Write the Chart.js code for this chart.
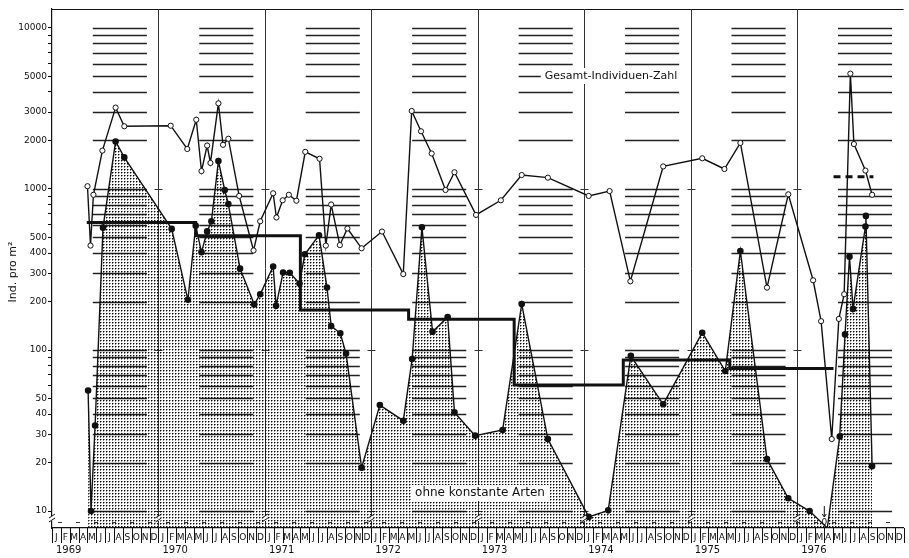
<!DOCTYPE html>
<html>
<head>
<meta charset="utf-8">
<script src="https://cdn.jsdelivr.net/npm/chart.js@4"></script>
<style>
  html, body { margin: 0; padding: 0; background: #fff; }
  #wrap { width: 909px; height: 558px; position: relative; }
</style>
</head>
<body>
<div id="wrap"><canvas id="c"></canvas></div>
<script>
// Time axis: months counted from January 1969 (0 = start of Jan 1969)
const monthLetters = ['J','F','M','A','M','J','J','A','S','O','N','D'];
const yearLabels = ['1969','1970','1971','1972','1973','1974','1975','1976'];

// Gesamt-Individuen-Zahl (open circles), individuals per m²
const totalMonths = [4.0, 4.34, 4.67, 5.68, 7.17, 8.15, 13.38, 15.25, 16.26, 16.85, 17.49, 17.86,
  18.76, 19.28, 19.88, 21.1, 22.72, 23.47, 24.93, 25.3, 26.0, 26.7, 27.55, 28.55, 30.16, 30.87,
  31.47, 32.45, 33.3, 34.9, 37.2, 39.6, 40.55, 41.6, 42.8, 44.36, 45.37, 47.8, 50.6, 52.95, 55.9,
  60.5, 62.86, 65.2, 68.9, 73.3, 75.8, 77.6, 80.6, 83.0, 85.8, 86.7, 87.9, 88.7, 89.3, 90.0, 90.4,
  91.7, 92.45];
const totalValues = [1040, 445, 920, 1730, 3200, 2450, 2470, 1770, 2690, 1290, 1860, 1450,
  3400, 1880, 2050, 905, 415, 630, 940, 665, 850, 920, 845, 1700, 1540, 445,
  800, 448, 568, 428, 544, 296, 3050, 2280, 1660, 985, 1270, 690, 850, 1220, 1175,
  905, 970, 267, 1380, 1550, 1330, 1930, 244, 926, 271, 151, 28, 156, 222, 5200, 1900,
  1300, 920];

// ohne konstante Arten (filled circles, stippled area); 0 = none found
const ohneMonths = [4.07, 4.4, 4.86, 5.75, 7.17, 8.15, 13.49, 15.32, 16.2, 16.85, 17.49, 17.97,
  18.76, 19.47, 19.88, 21.2, 22.8, 23.47, 24.93, 25.26, 26.05, 26.8, 27.9, 28.5, 30.1, 31.0,
  31.47, 32.5, 33.15, 34.9, 36.96, 39.6, 40.6, 41.7, 42.9, 44.6, 45.37, 47.7, 50.8, 52.95, 55.9,
  60.5, 62.7, 65.25, 68.9, 73.3, 75.9, 77.6, 80.6, 83.0, 85.4, 87.4, 88.8, 89.4, 89.9, 90.3,
  91.7, 91.75, 92.45];
const ohneValues = [56, 10, 34, 575, 1970, 1570, 565, 205, 590, 405, 545, 630,
  1490, 985, 805, 320, 192, 222, 330, 188, 303, 302, 259, 393, 515, 244,
  141, 127, 95, 18.6, 45.5, 36.4, 88, 578, 130, 160, 41, 29.4, 31.9, 193, 28,
  9.2, 10.1, 92, 46, 128, 74, 412, 21, 12, 10, 0, 29, 125, 380, 180,
  585, 680, 19];

// Period means (thick step line); each value holds from its month to the next
const meanMonths = [3.92, 16.2, 28.0, 40.2, 52.1, 64.4, 76.4, 88.1];
const meanValues = [618, 513, 177, 155, 60.7, 86.7, 76.9, 76.9];
// Mean for 1976 (dashed)
const mean1976Months = [88.1, 92.6];
const mean1976Values = [1190, 1190];

// Logarithmic axis: every grid value, and the ones that carry a label
const gridValues = [];
[10, 100, 1000].forEach(d => { for (let k = 1; k < 10; k++) gridValues.push(k * d); });
gridValues.push(10000);
const yTickLabels = [10, 20, 30, 40, 50, 100, 200, 300, 400, 500, 1000, 2000, 3000, 5000, 10000];

const Y_MIN = 7.85, Y_MAX = 13100;
const FONT = '"DejaVu Sans", "Liberation Sans", sans-serif';

const pts = (xs, ys) => xs.map((m, i) => ({ x: m, y: ys[i] === 0 ? Y_MIN : ys[i] }));

const canvas = document.getElementById('c');
const ctx0 = canvas.getContext('2d');

// stipple pattern for the area under the "ohne konstante Arten" curve
function stipple(ctx) {
  const t = document.createElement('canvas');
  t.width = 3; t.height = 3;
  const g = t.getContext('2d');
  g.fillStyle = '#000';
  g.fillRect(1, 1, 1, 1);
  g.fillStyle = 'rgba(0,0,0,0.45)';
  g.fillRect(2, 1, 1, 1);
  g.fillRect(1, 2, 1, 1);
  return ctx.createPattern(t, 'repeat');
}

function labelBox(ctx, text, cx, cy, font) {
  ctx.font = font;
  const w = ctx.measureText(text).width;
  ctx.fillStyle = '#fff';
  ctx.fillRect(cx - w / 2 - 4, cy - 8, w + 8, 16);
  ctx.fillStyle = '#111';
  ctx.textAlign = 'center';
  ctx.textBaseline = 'middle';
  ctx.fillText(text, cx, cy);
}

const decor = {
  id: 'decor',
  beforeDatasetsDraw(chart) {
    const { ctx, chartArea: a, scales: { x, y } } = chart;
    ctx.save();
    // frame top
    ctx.strokeStyle = '#111';
    ctx.lineWidth = 1.2;
    ctx.beginPath();
    ctx.moveTo(a.left, a.top + 0.5); ctx.lineTo(a.right, a.top + 0.5);
    ctx.stroke();
    // year separators with small cross marks at each decade
    ctx.strokeStyle = '#333';
    ctx.lineWidth = 1;
    for (let k = 1; k < yearLabels.length; k++) {
      const px = Math.round(x.getPixelForValue(k * 12)) + 0.5;
      ctx.beginPath(); ctx.moveTo(px, a.top); ctx.lineTo(px, a.bottom); ctx.stroke();
      [10, 100, 1000].forEach(v => {
        const py = Math.round(y.getPixelForValue(v)) + 0.5;
        ctx.beginPath(); ctx.moveTo(px - 4, py); ctx.lineTo(px + 4, py); ctx.stroke();
      });
    }
    // horizontal log grid, drawn from May to November of each year
    ctx.strokeStyle = '#222';
    ctx.lineWidth = 1.4;
    for (let k = 0; k < yearLabels.length; k++) {
      const x0 = x.getPixelForValue(k * 12 + 4.6);
      const x1 = x.getPixelForValue(k * 12 + 10.7);
      gridValues.forEach(v => {
        const py = Math.round(y.getPixelForValue(v)) + 0.5;
        ctx.beginPath(); ctx.moveTo(x0, py); ctx.lineTo(x1, py); ctx.stroke();
      });
    }
    // dashed base line above the axis break
    ctx.lineWidth = 1;
    ctx.strokeStyle = '#333';
    ctx.setLineDash([4, 14]);
    ctx.beginPath();
    ctx.moveTo(a.left + 6, a.bottom - 5.5); ctx.lineTo(a.right, a.bottom - 5.5);
    ctx.stroke();
    ctx.setLineDash([]);
    ctx.restore();
  },
  afterDatasetsDraw(chart) {
    const { ctx, chartArea: a, scales: { x } } = chart;
    ctx.save();
    labelBox(ctx, 'Gesamt-Individuen-Zahl', 611, 76, '11px ' + FONT);
    labelBox(ctx, 'ohne konstante Arten', 480, 493, '12px ' + FONT);
    // axis-break marks at the foot of the axis and of each year line
    ctx.strokeStyle = '#111';
    ctx.lineWidth = 1;
    for (let k = 0; k < yearLabels.length; k++) {
      const px = x.getPixelForValue(k * 12);
      const py = a.bottom - 10;
      ctx.fillStyle = '#fff';
      ctx.fillRect(px - 1, py - 2, 3, 5);
      [-2, 2].forEach(d => {
        ctx.beginPath(); ctx.moveTo(px - 3, py + d + 2); ctx.lineTo(px + 3, py + d - 2); ctx.stroke();
      });
    }
    // zero value marker for "ohne konstante Arten"
    ohneValues.forEach((v, i) => {
      if (v !== 0) return;
      const px = x.getPixelForValue(ohneMonths[i]) - 3;
      ctx.beginPath(); ctx.moveTo(px, a.bottom - 22); ctx.lineTo(px, a.bottom - 11); ctx.stroke();
      ctx.beginPath(); ctx.moveTo(px - 2, a.bottom - 14); ctx.lineTo(px, a.bottom - 11); ctx.lineTo(px + 2, a.bottom - 14); ctx.stroke();
      ctx.fillStyle = '#111';
      ctx.font = '9px ' + FONT;
      ctx.textAlign = 'center';
      ctx.textBaseline = 'middle';
      ctx.fillText('0', px, a.bottom - 5);
    });
    ctx.restore();
  },
  afterDraw(chart) {
    const { ctx, chartArea: a, scales: { x } } = chart;
    ctx.save();
    // month boxes under the axis
    ctx.strokeStyle = '#111';
    ctx.lineWidth = 1;
    for (let m = 0; m <= 96; m++) {
      const px = Math.round(x.getPixelForValue(m)) + 0.5;
      ctx.beginPath(); ctx.moveTo(px, a.bottom); ctx.lineTo(px, a.bottom + 15); ctx.stroke();
    }
    // year labels
    ctx.fillStyle = '#111';
    ctx.font = '10px ' + FONT;
    ctx.textAlign = 'left';
    ctx.textBaseline = 'middle';
    yearLabels.forEach((t, k) => {
      ctx.fillText(t, x.getPixelForValue(k * 12) + 4, 550);
    });
    // y axis title
    ctx.translate(13, 272);
    ctx.rotate(-Math.PI / 2);
    ctx.textAlign = 'center';
    ctx.font = '11px ' + FONT;
    ctx.fillText('Ind. pro m²', 0, 0);
    ctx.restore();
  }
};

new Chart(canvas, {
  type: 'line',
  data: {
    datasets: [
      {
        label: 'Gesamt-Individuen-Zahl',
        data: pts(totalMonths, totalValues),
        borderColor: '#111',
        borderWidth: 1.4,
        pointRadius: 2.6,
        pointBackgroundColor: '#fff',
        pointBorderColor: '#111',
        pointBorderWidth: 1,
        fill: false,
        tension: 0
      },
      {
        label: 'Mittel 1976',
        data: pts(mean1976Months, mean1976Values),
        borderColor: '#111',
        borderWidth: 3,
        borderDash: [7, 5],
        pointRadius: 0,
        fill: false
      },
      {
        label: 'Mittelwerte',
        data: pts(meanMonths, meanValues),
        borderColor: '#111',
        borderWidth: 3,
        stepped: 'before',
        pointRadius: 0,
        fill: false
      },
      {
        label: 'ohne konstante Arten',
        data: pts(ohneMonths, ohneValues),
        borderColor: '#111',
        borderWidth: 1.4,
        pointRadius: c => (ohneValues[c.dataIndex] === 0 ? 0 : 2.6),
        pointBackgroundColor: '#111',
        pointBorderColor: '#111',
        fill: 'start',
        backgroundColor: stipple(ctx0),
        tension: 0
      }
    ]
  },
  options: {
    responsive: true,
    maintainAspectRatio: false,
    animation: false,
    layout: { padding: { top: 9, right: 1, left: 0, bottom: 0 } },
    plugins: { legend: { display: false }, tooltip: { enabled: false } },
    scales: {
      x: {
        type: 'linear',
        min: 0,
        max: 96,
        afterFit: s => { s.height = 30; },
        afterBuildTicks: s => {
          s.ticks = Array.from({ length: 96 }, (_, i) => ({ value: i + 0.5 }));
        },
        ticks: {
          autoSkip: false,
          maxRotation: 0,
          padding: 4,
          color: '#111',
          font: { family: FONT, size: 9 },
          callback: v => monthLetters[Math.floor(v) % 12]
        },
        grid: { display: false, drawTicks: false, tickLength: 0 },
        border: { display: true, color: '#111', width: 1.2 }
      },
      y: {
        type: 'logarithmic',
        min: Y_MIN,
        max: Y_MAX,
        afterFit: s => { s.width = 52; },
        afterBuildTicks: s => {
          s.ticks = gridValues.map(v => ({ value: v }));
        },
        ticks: {
          autoSkip: false,
          padding: 1,
          color: '#111',
          font: { family: FONT, size: 9 },
          callback: v => (yTickLabels.includes(v) ? String(v) : '')
        },
        grid: { display: true, drawOnChartArea: false, drawTicks: true, tickLength: 4, color: '#111', lineWidth: 1 },
        border: { display: true, color: '#111', width: 1.2 }
      }
    }
  },
  plugins: [decor]
});
</script>
</body>
</html>
